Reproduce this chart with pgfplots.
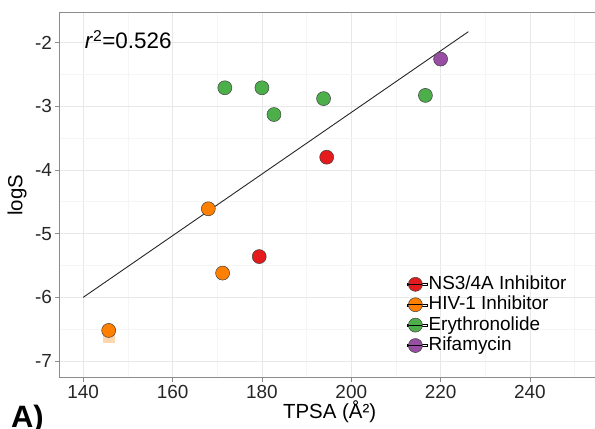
\documentclass[border=0pt]{standalone}
\usepackage{fontspec}
\setmainfont{Liberation Sans}
\usepackage{pgfplots}
\pgfplotsset{compat=1.18}
\definecolor{cRed}{HTML}{E41A1C}
\definecolor{cOrange}{HTML}{FF7F00}
\definecolor{cGreen}{HTML}{4DAF4A}
\definecolor{cPurple}{HTML}{984EA3}
\begin{document}
\begin{tikzpicture}
\begin{axis}[
  at={(60bp,51.3bp)}, anchor=south west,
  scale only axis, width=539.2bp, height=364.7bp,
  xmin=134.8, xmax=255.5, ymin=-7.262, ymax=-1.536,
  xtick={140,160,180,200,220,240},
  xticklabels={140,160,180,200,220,240},
  ytick={-7,-6,-5,-4,-3,-2},
  yticklabels={-7,-6,-5,-4,-3,-2},
  minor xtick={150,170,190,210,230,250},
  minor ytick={-6.5,-5.5,-4.5,-3.5,-2.5},
  grid=both,
  major grid style={color=black!9, line width=0.8bp},
  minor grid style={color=black!4, line width=0.8bp},
  tick align=outside, major tick length=4.5bp, minor tick length=0pt,
  tick style={color=black!45, line width=0.8bp},
  axis line style={color=black!45, line width=1bp},
  xtick pos=lower, ytick pos=left,
  ticklabel style={font=\fontsize{19}{22}\selectfont, text=black!85},
  xlabel={TPSA (Å²)}, ylabel={logS},
  label style={font=\fontsize{20.5}{24}\selectfont},
  xlabel style={at={(axis description cs:0.5,-0.1105)}, anchor=base},
  ylabel style={at={(axis description cs:-0.0700,0.5)}, anchor=base},
  legend style={draw=none, fill=none, at={(axis description cs:0.638,0.290)}, anchor=north west,
    font=\fontsize{19}{22}\selectfont, cells={anchor=west},
    nodes={inner sep=1bp, text height=14.2bp, text depth=4.2bp}, row sep=0pt},
  legend image code/.code={
    \path (0bp,-1bp) rectangle (20bp,1bp);
    \draw[mark repeat=2,mark phase=2,#1] plot coordinates {(0bp,0bp) (8bp,0bp) (16bp,0bp)};
    \draw[black, line width=0.8bp] (1bp,0bp) -- (15bp,0bp);
  },
  every axis plot/.append style={only marks, mark=*, mark size=7bp},
]
\addplot[color=cOrange!32, mark=square*, mark size=5.5bp, forget plot]
  coordinates {(145.7,-6.62)};
\addplot[mark options={fill=cRed, draw=black!75, line width=0.5bp}]
  coordinates {(194.5,-3.80) (179.4,-5.36)};
\addlegendentry{NS3/4A Inhibitor}
\addplot[mark options={fill=cOrange, draw=black!75, line width=0.5bp}]
  coordinates {(168.0,-4.61) (171.2,-5.62) (145.7,-6.52)};
\addlegendentry{HIV-1 Inhibitor}
\addplot[mark options={fill=cGreen, draw=black!75, line width=0.5bp}]
  coordinates {(171.7,-2.71) (180.0,-2.71) (182.7,-3.13) (193.8,-2.88) (216.6,-2.83)};
\addlegendentry{Erythronolide}
\addplot[mark options={fill=cPurple, draw=black!75, line width=0.5bp}]
  coordinates {(220.0,-2.26)};
\addlegendentry{Rifamycin}
\addplot[no marks, sharp plot, draw=black!85, line width=0.9bp, forget plot]
  coordinates {(140,-6.0) (226.2,-1.83)};
\node[anchor=base west, font=\fontsize{22.5}{24}\selectfont] at (axis cs:139.6,-2.094)
  {\textit{r}\textsuperscript{2}=0.526};
\end{axis}
\pgfresetboundingbox
\useasboundingbox (0bp,0bp) rectangle (595bp,429bp);
\node[anchor=base west, font=\fontsize{31}{34}\selectfont\bfseries, inner sep=0pt] at (11bp,2bp) {A)};
\end{tikzpicture}
\end{document}
